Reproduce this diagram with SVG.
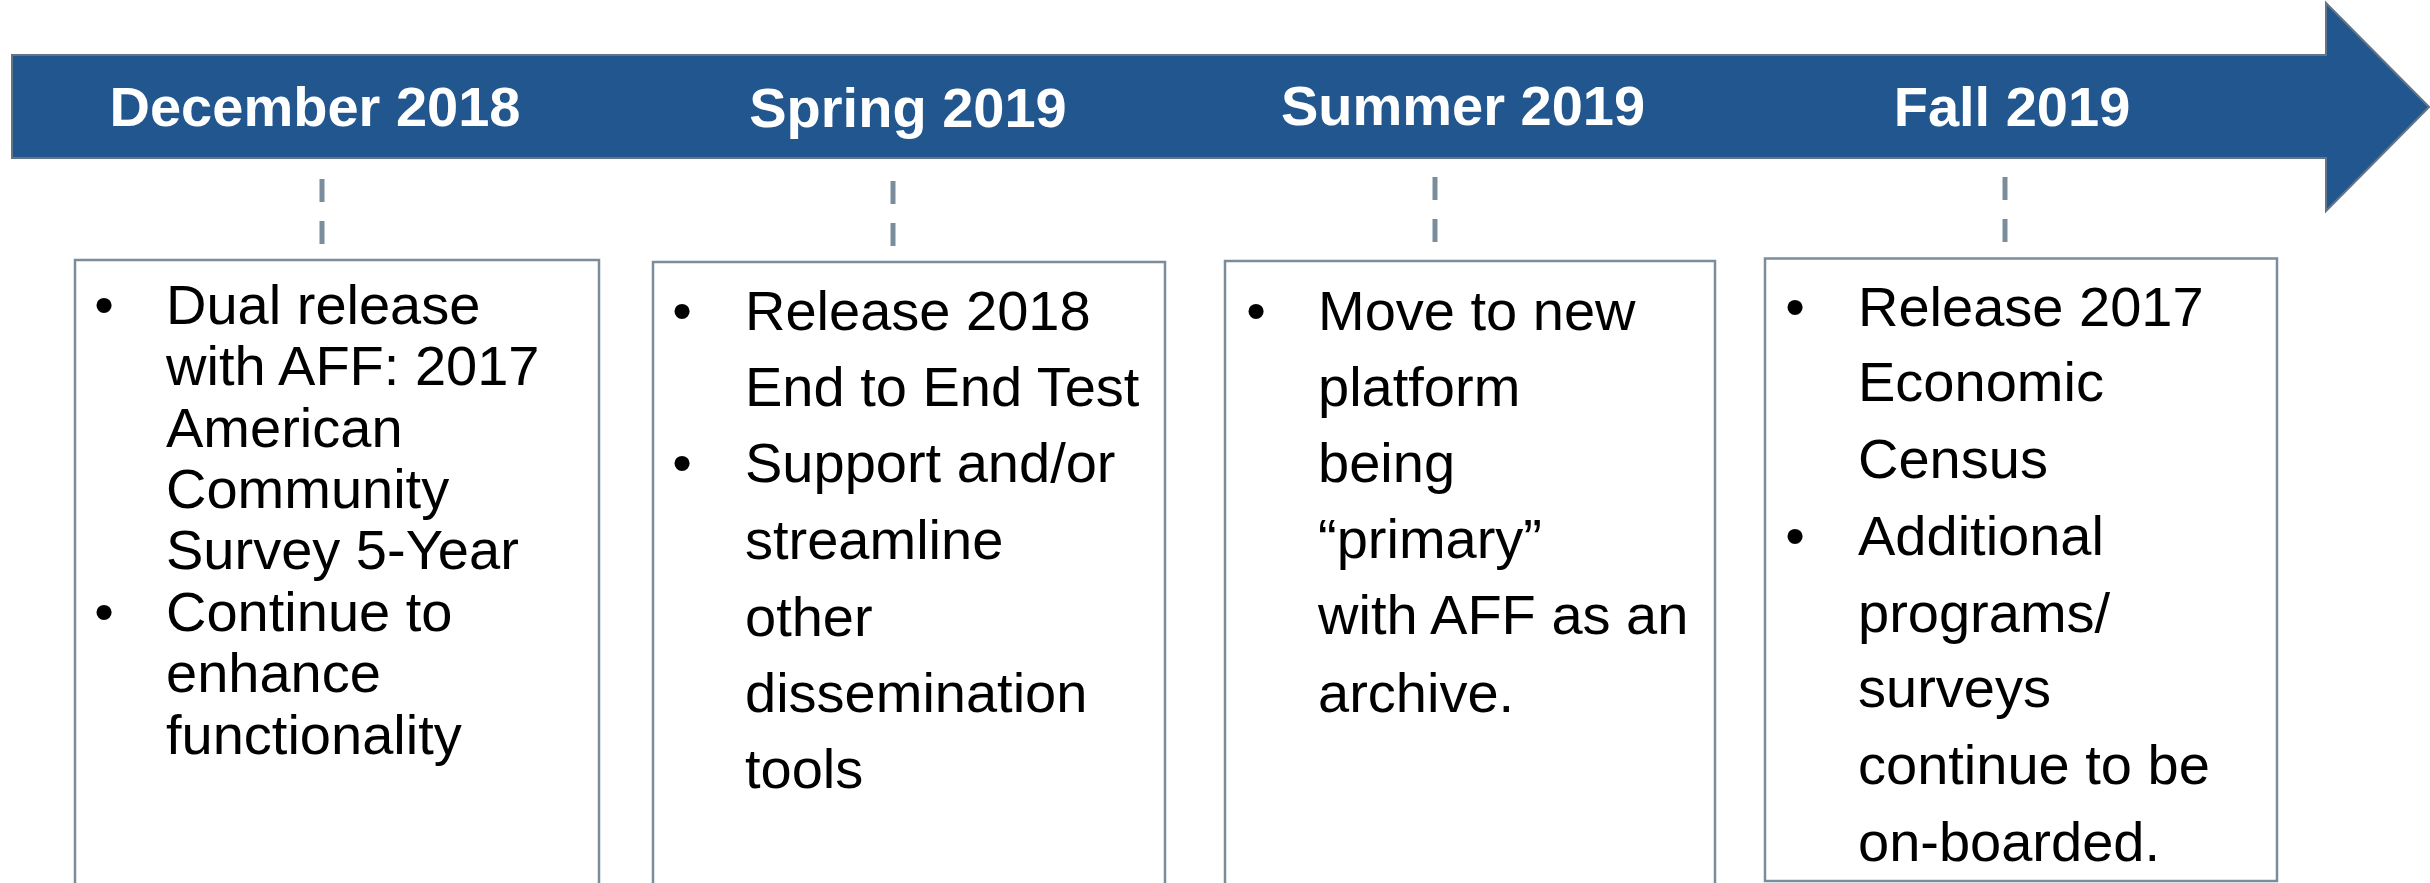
<svg xmlns="http://www.w3.org/2000/svg" width="2430" height="883" viewBox="0 0 2430 883">
<style>
.band{fill:#22568F;stroke:#627586;stroke-width:2}
.hdr{font-family:"Liberation Sans",Arial,sans-serif;font-weight:bold;font-size:56px;fill:#ffffff;text-anchor:middle}
.box{fill:#ffffff;stroke:#7B8D9B;stroke-width:2.5}
.txt{font-family:"Liberation Sans",Arial,sans-serif;font-size:56px;fill:#000000}
.bul{font-family:"Liberation Sans",Arial,sans-serif;font-size:56px;fill:#000000;text-anchor:middle}
.dash{stroke:#7B8D9B;stroke-width:5;stroke-dasharray:23 19;fill:none}
</style>
<rect width="2430" height="883" fill="#ffffff"/>
<g id="timeline">
<path class="band" d="M12,55 L2326,55 L2326,3 L2429,107 L2326,211 L2326,158 L12,158 Z"/>
<text class="hdr" x="315" y="126">December 2018</text>
<text class="hdr" x="908" y="127">Spring 2019</text>
<text class="hdr" x="1463" y="125">Summer 2019</text>
<text class="hdr" x="2012" y="126">Fall 2019</text>
</g>
<g id="connectors">
<line class="dash" x1="322" y1="179" x2="322" y2="244"/>
<line class="dash" x1="893" y1="181" x2="893" y2="247"/>
<line class="dash" x1="1435" y1="177" x2="1435" y2="243"/>
<line class="dash" x1="2005" y1="177" x2="2005" y2="242"/>
</g>
<g id="box-dec2018">
<rect class="box" x="75" y="260" width="524" height="640"/>
<text class="bul" x="104" y="324">•</text>
<text class="bul" x="104" y="631">•</text>
<text class="txt" x="166">
<tspan x="166" y="324">Dual release</tspan>
<tspan x="166" y="385">with AFF: 2017</tspan>
<tspan x="166" y="447">American</tspan>
<tspan x="166" y="508">Community</tspan>
<tspan x="166" y="569">Survey 5-Year</tspan>
<tspan x="166" y="631">Continue to</tspan>
<tspan x="166" y="692">enhance</tspan>
<tspan x="166" y="754">functionality</tspan>
</text>
</g>
<g id="box-spring2019">
<rect class="box" x="653" y="262" width="512" height="640"/>
<text class="bul" x="682" y="330">•</text>
<text class="bul" x="682" y="482">•</text>
<text class="txt">
<tspan x="745" y="330">Release 2018</tspan>
<tspan x="745" y="406">End to End Test</tspan>
<tspan x="745" y="482">Support and/or</tspan>
<tspan x="745" y="559">streamline</tspan>
<tspan x="745" y="636">other</tspan>
<tspan x="745" y="712">dissemination</tspan>
<tspan x="745" y="788">tools</tspan>
</text>
</g>
<g id="box-summer2019">
<rect class="box" x="1225" y="261" width="490" height="640"/>
<text class="bul" x="1256" y="330">•</text>
<text class="txt">
<tspan x="1318" y="330">Move to new</tspan>
<tspan x="1318" y="406">platform</tspan>
<tspan x="1318" y="482">being</tspan>
<tspan x="1318" y="558">“primary”</tspan>
<tspan x="1318" y="634">with AFF as an</tspan>
<tspan x="1318" y="712">archive.</tspan>
</text>
</g>
<g id="box-fall2019">
<rect class="box" x="1765" y="258.5" width="512" height="622.5"/>
<text class="bul" x="1795" y="326">•</text>
<text class="bul" x="1795" y="555">•</text>
<text class="txt">
<tspan x="1858" y="326">Release 2017</tspan>
<tspan x="1858" y="401">Economic</tspan>
<tspan x="1858" y="478">Census</tspan>
<tspan x="1858" y="555">Additional</tspan>
<tspan x="1858" y="632">programs/</tspan>
<tspan x="1858" y="707">surveys</tspan>
<tspan x="1858" y="784">continue to be</tspan>
<tspan x="1858" y="861">on-boarded.</tspan>
</text>
</g>
</svg>
